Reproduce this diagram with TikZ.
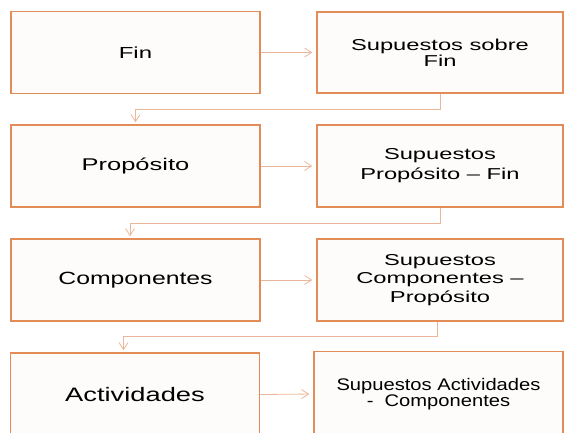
\documentclass[tikz,border=0pt]{standalone}
\usepackage{fontspec}
\usetikzlibrary{arrows.meta}
\newfontfamily\widefont[FakeStretch=1.5]{Liberation Sans}
\newfontfamily\midfont[FakeStretch=1.4]{Liberation Sans}
\newfontfamily\narrowfont[FakeStretch=1.2]{Liberation Sans}
\definecolor{boxorange}{RGB}{226,140,88}
\definecolor{linkorange}{RGB}{236,182,152}
\definecolor{boxfill}{RGB}{253,252,251}

\begin{document}
\begin{tikzpicture}[x=1pt,y=-1pt,
                    level node/.style={rectangle,draw=boxorange,fill=boxfill,line width=1.5pt,
                                       minimum width=249pt,minimum height=82pt,inner sep=2pt,
                                       align=center,text=black},
                    supp node/.style={level node,minimum width=246pt},
                    link/.style={draw=linkorange,line width=0.8pt,
                                 -{Straight Barb[length=7pt,width=9pt]}}
                   ]
  \useasboundingbox (0,0) rectangle (565,432);

  \node[level node,font=\widefont\fontsize{16}{18}\selectfont] (fin) at (135.5,52.5) {Fin};
  \node[level node,font=\widefont\fontsize{17}{18}\selectfont] (prop) at (135.5,166) {Propósito};
  \node[level node,font=\midfont\fontsize{17.7}{19}\selectfont] (comp) at (135.5,280) {Componentes};
  \node[level node,minimum height=83pt,font=\midfont\fontsize{19.5}{21}\selectfont] (act) at (135,394.5) {Actividades};

  \node[supp node,minimum height=81pt,font=\widefont\fontsize{15.8}{14}\selectfont] (sfin) at (440,52.5) {Supuestos sobre\\Fin};
  \node[supp node,font=\widefont\fontsize{15.8}{20}\selectfont] (sprop) at (440,166) {Supuestos\\Propósito – Fin};
  \node[supp node,font=\widefont\fontsize{15.8}{18.5}\selectfont] (scomp) at (440,280) {Supuestos\\Componentes –\\Propósito};
  \node[supp node,minimum width=249pt,minimum height=85pt,font=\narrowfont\fontsize{16.8}{15.5}\selectfont] (sact) at (438.5,394) {Supuestos Actividades\\-\ \ Componentes};

  \draw[link,shorten >=4pt] (fin.east) -- (sfin.west);
  \draw[link,shorten >=4pt] (prop.east) -- (sprop.west);
  \draw[link,shorten >=4pt] (comp.east) -- (scomp.west);
  \draw[link,shorten >=4pt] (act.east) -- (sact.west);

  \draw[link,shorten >=2pt] (sfin.south) -- ++(0,16) -| (prop.north);
  \draw[link,shorten >=2pt] (sprop.south) -- ++(0,16) -| ([xshift=-5.5pt]comp.north);
  \draw[link,shorten >=2pt] ([xshift=-3pt]scomp.south) -- ++(0,15) -| ([xshift=-11.5pt]act.north);
\end{tikzpicture}
\end{document}
